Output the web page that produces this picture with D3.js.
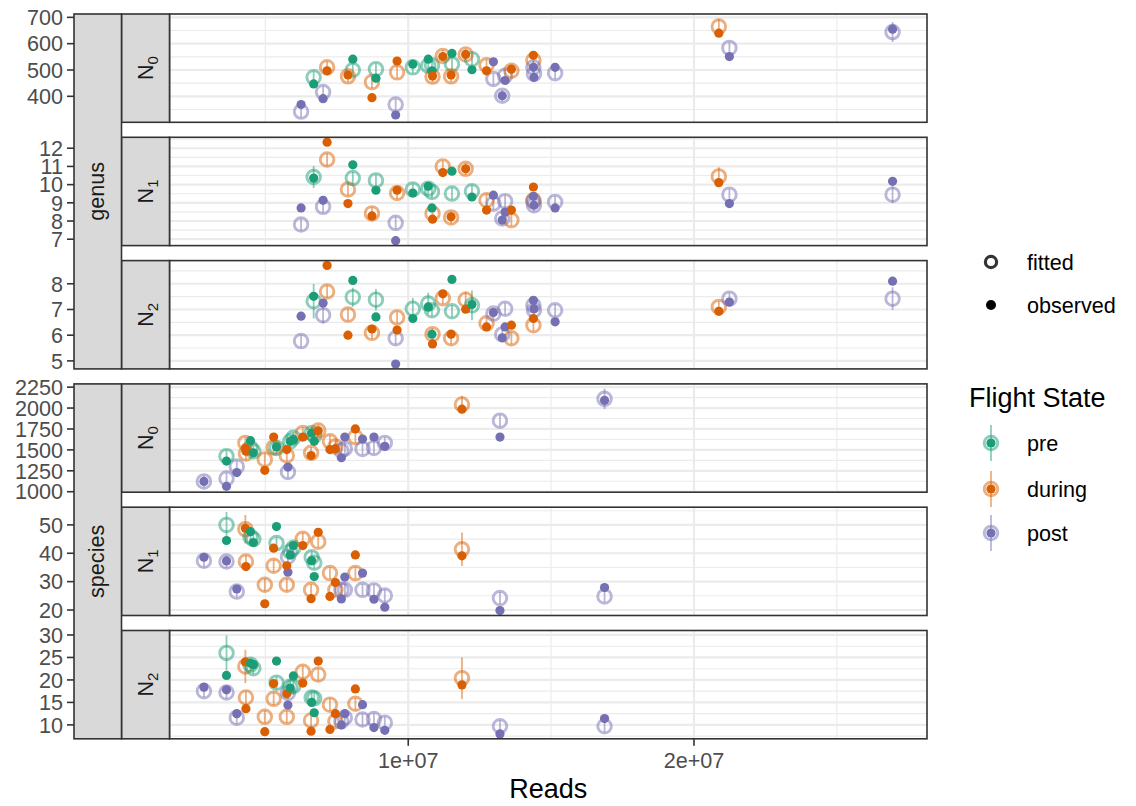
<!DOCTYPE html>
<html><head><meta charset="utf-8">
<script src="https://cdn.jsdelivr.net/npm/d3@7"></script>
<style>
body{margin:0;background:#fff}
svg{display:block}
text{font-family:"Liberation Sans",Arial,Helvetica,sans-serif}
</style>
</head><body>
<svg id="chart" width="1136" height="806"></svg>
<script>
// Flight states and their colours (Dark2)
const stateLevels = ["pre", "during", "post"];
const stateColors = ["#1B9E77", "#D95F02", "#7570B3"];
const taxLevels = ["genus", "species"];
const orderLevels = ["0", "1", "2"];

// ---- genus-level samples ----
const genusReads = [6.25e6, 6.69e6, 7.02e6, 7.16e6, 7.89e6, 8.06e6, 8.73e6, 8.87e6, 9.56e6, 9.61e6, 10.16e6, 10.70e6, 10.83e6, 10.85e6, 11.21e6, 11.53e6, 11.50e6, 12.01e6, 12.23e6, 12.74e6, 12.98e6, 13.39e6, 13.29e6, 13.61e6, 14.38e6, 14.38e6, 14.40e6, 15.14e6, 20.87e6, 21.24e6, 26.95e6];
const genusState = ["post","pre","post","during","during","pre","during","pre","post","during","pre","pre","pre","during","during","pre","during","during","pre","during","post","post","post","during","during","post","post","post","during","post","post"];
const genusN0Fit = [342,472,416,510,476,500,454,503,369,491,510,516,518,475,553,522,476,559,541,518,466,478,402,497,537,510,485,488,665,584,644];
const genusN0Obs = [369,447,391,497,481,541,395,469,329,534,522,541,497,477,551,563,481,559,501,497,531,460,402,503,556,510,472,510,640,551,655];
const genusN0Half = [22,22,22,22,22,22,22,22,22,22,22,22,22,22,22,22,22,22,22,22,22,22,22,22,22,22,22,22,29,22,38];
const genusN1Fit = [7.81,10.42,8.78,11.38,9.73,10.36,8.42,10.23,7.90,9.54,9.73,9.78,9.60,8.42,11.00,9.51,8.20,10.87,9.63,9.14,8.96,9.09,8.14,8.05,9.14,9.09,8.87,9.05,10.45,9.45,9.45];
const genusN1Obs = [8.72,10.36,9.14,12.33,8.96,11.09,8.28,9.69,6.92,9.69,9.54,9.91,8.72,8.10,10.66,10.74,8.23,10.87,9.32,8.60,9.42,8.49,8.05,8.60,9.87,9.36,8.87,8.72,10.11,8.96,10.18];
const genusN1Half = [0.33,0.6,0.33,0.33,0.33,0.33,0.33,0.33,0.33,0.33,0.33,0.33,0.33,0.33,0.33,0.33,0.33,0.33,0.33,0.33,0.33,0.33,0.33,0.33,0.33,0.33,0.33,0.33,0.5,0.33,0.46];
const genusN2Fit = [5.77,7.32,6.78,7.70,6.80,7.48,6.09,7.38,5.88,6.69,7.03,7.23,6.97,6.04,7.44,6.93,5.88,7.38,7.16,6.46,6.84,7.03,6.03,5.88,6.39,7.16,6.97,6.97,7.10,7.42,7.42];
const genusN2Obs = [6.74,7.51,7.25,8.71,6.00,8.13,6.24,6.71,4.88,6.20,6.65,7.10,6.04,5.66,7.61,8.17,6.04,7.01,7.19,6.32,6.88,6.32,5.90,6.39,6.65,7.36,7.03,6.52,6.93,7.29,8.10];
const genusN2Half = [0.23,0.67,0.33,0.23,0.23,0.37,0.23,0.42,0.23,0.23,0.42,0.42,0.23,0.23,0.23,0.23,0.23,0.32,0.58,0.23,0.23,0.23,0.23,0.23,0.23,0.23,0.23,0.23,0.23,0.23,0.44];

// ---- species-level samples ----
const speciesReads = [2.85e6, 3.64e6, 3.64e6, 4.00e6, 4.30e6, 4.32e6, 4.48e6, 4.58e6, 4.98e6, 5.29e6, 5.39e6, 5.79e6, 5.75e6, 5.87e6, 5.98e6, 6.31e6, 6.60e6, 6.62e6, 6.71e6, 6.85e6, 7.26e6, 7.45e6, 7.66e6, 7.78e6, 8.15e6, 8.40e6, 8.80e6, 9.18e6, 11.88e6, 13.21e6, 16.87e6];
const speciesState = ["post","post","pre","post","during","during","pre","pre","during","during","pre","post","during","pre","pre","during","during","pre","pre","during","during","during","post","post","during","post","post","post","during","post","post"];
const speciesN0Fit = [1123,1158,1425,1300,1583,1457,1524,1484,1386,1530,1524,1236,1433,1602,1645,1701,1465,1701,1669,1731,1602,1539,1492,1515,1653,1512,1524,1583,2043,1849,2110];
const speciesN0Obs = [1123,1064,1366,1229,1524,1484,1610,1465,1256,1653,1536,1295,1504,1602,1622,1653,1433,1701,1602,1728,1504,1515,1406,1653,1751,1630,1653,1543,1987,1653,2093];
const speciesN0Half = [70,70,70,70,70,70,70,70,70,70,70,70,70,70,70,70,70,70,70,70,70,70,70,70,70,70,70,70,105,70,120];
const speciesN1Fit = [37.4,37.1,50.0,26.5,48.5,37.1,45.8,45.0,28.9,35.6,43.6,38.8,28.9,40.6,41.9,45.1,27.1,38.6,36.7,44.1,33.0,27.1,27.1,27.1,33.0,27.1,26.9,25.1,41.4,24.2,24.8];
const speciesN1Obs = [38.6,37.3,44.5,27.4,48.8,35.3,47.6,43.8,22.2,41.8,49.4,33.3,35.6,39.4,42.7,42.7,24.0,37.4,31.8,47.4,24.8,29.7,23.9,31.6,39.4,33.0,23.8,21.0,39.1,19.8,27.9];
const speciesN1Half = [2.1,2.1,4.5,2.1,5.0,2.1,2.1,2.1,2.1,2.1,2.1,2.1,2.1,2.1,2.1,2.1,2.1,2.1,2.1,2.1,2.1,2.1,2.1,2.1,2.1,2.1,2.1,2.1,5.9,2.1,2.1];
const speciesN2Fit = [17.5,17.2,26.0,11.6,23.0,16.1,23.4,22.6,11.8,15.8,19.4,17.1,11.8,18.5,18.6,21.8,11.0,16.1,15.9,21.2,14.5,10.8,10.8,11.6,14.7,11.2,11.3,10.5,20.4,9.7,9.7];
const speciesN2Obs = [18.4,17.8,21.0,12.5,24.0,13.6,23.7,23.4,8.5,19.2,24.2,14.4,16.9,18.2,20.9,19.3,8.6,15.0,12.7,24.2,9.0,12.5,10.0,12.5,18.0,14.5,9.4,8.8,18.9,8.0,11.4];
const speciesN2Half = [1.35,1.35,3.9,1.35,3.7,1.35,1.35,1.35,1.35,1.35,1.35,1.35,1.35,1.35,1.35,1.35,1.35,1.35,1.35,1.35,1.35,1.35,1.35,1.35,1.35,1.35,1.35,1.35,4.65,1.35,1.35];

// ---- axis breaks ----
const genusN0Ticks = [400, 500, 600, 700];
const genusN1Ticks = [7, 8, 9, 10, 11, 12];
const genusN2Ticks = [5, 6, 7, 8];
const speciesN0Ticks = [1000, 1250, 1500, 1750, 2000, 2250];
const speciesN1Ticks = [20, 30, 40, 50];
const speciesN2Ticks = [10, 15, 20, 25, 30];
const readsTicks = [1e7, 2e7];

// ---- facet table ----
const facets = [
  {tax: "genus", order: "0", reads: genusReads, state: genusState, fit: genusN0Fit, obs: genusN0Obs, half: genusN0Half, ticks: genusN0Ticks},
  {tax: "genus", order: "1", reads: genusReads, state: genusState, fit: genusN1Fit, obs: genusN1Obs, half: genusN1Half, ticks: genusN1Ticks},
  {tax: "genus", order: "2", reads: genusReads, state: genusState, fit: genusN2Fit, obs: genusN2Obs, half: genusN2Half, ticks: genusN2Ticks},
  {tax: "species", order: "0", reads: speciesReads, state: speciesState, fit: speciesN0Fit, obs: speciesN0Obs, half: speciesN0Half, ticks: speciesN0Ticks},
  {tax: "species", order: "1", reads: speciesReads, state: speciesState, fit: speciesN1Fit, obs: speciesN1Obs, half: speciesN1Half, ticks: speciesN1Ticks},
  {tax: "species", order: "2", reads: speciesReads, state: speciesState, fit: speciesN2Fit, obs: speciesN2Obs, half: speciesN2Half, ticks: speciesN2Ticks}
];

// ---- layout ----
const svg = d3.select("#chart");
const panelLeft = 169.5, panelRight = 927;
const outerStripLeft = 74, innerStripLeft = 121.5;
const panelTop0 = 14, panelH = 108.3, panelGap = 15;
const smallFont = 21.6, bigFont = 27;
const fitR = 6.8, fitStroke = 2.9, obsR = 4.6;
const colorOf = d3.scaleOrdinal(stateLevels, stateColors);

function expand(lo, hi) { const p = (hi - lo) * 0.05; return [lo - p, hi + p]; }
function minorBreaks(ticks, domain) {
  const step = ticks[1] - ticks[0];
  const out = [];
  for (let t = ticks[0] - step / 2; t <= domain[1]; t += step) if (t >= domain[0]) out.push(t);
  return out;
}
const sciLabel = d => {
  const e = Math.floor(Math.log10(d));
  return (d / Math.pow(10, e)) + "e+" + String(e).padStart(2, "0");
};

const allReads = genusReads.concat(speciesReads);
const x = d3.scaleLinear().domain(expand(d3.min(allReads), d3.max(allReads))).range([panelLeft, panelRight]);
const xMinor = minorBreaks(readsTicks, x.domain());

const defs = svg.append("defs");

facets.forEach((f, i) => {
  const top = panelTop0 + i * (panelH + panelGap);
  const bottom = top + panelH;
  const lows = f.fit.map((v, k) => v - f.half[k]).concat(f.obs);
  const highs = f.fit.map((v, k) => v + f.half[k]).concat(f.obs);
  const y = d3.scaleLinear().domain(expand(d3.min(lows), d3.max(highs))).range([bottom, top]);
  const g = svg.append("g");

  // grid
  const yMinor = minorBreaks(f.ticks, y.domain());
  g.selectAll(".ymin").data(yMinor).join("line")
    .attr("x1", panelLeft).attr("x2", panelRight).attr("y1", d => y(d)).attr("y2", d => y(d))
    .attr("stroke", "#EBEBEB").attr("stroke-width", 1.1);
  g.selectAll(".xmin").data(xMinor).join("line")
    .attr("x1", d => x(d)).attr("x2", d => x(d)).attr("y1", top).attr("y2", bottom)
    .attr("stroke", "#EBEBEB").attr("stroke-width", 1.1);
  g.selectAll(".ymaj").data(f.ticks).join("line")
    .attr("x1", panelLeft).attr("x2", panelRight).attr("y1", d => y(d)).attr("y2", d => y(d))
    .attr("stroke", "#EBEBEB").attr("stroke-width", 2.2);
  g.selectAll(".xmaj").data(readsTicks).join("line")
    .attr("x1", d => x(d)).attr("x2", d => x(d)).attr("y1", top).attr("y2", bottom)
    .attr("stroke", "#EBEBEB").attr("stroke-width", 2.2);

  // clip for marks
  const clipId = "clip" + i;
  defs.append("clipPath").attr("id", clipId).append("rect")
    .attr("x", panelLeft).attr("y", top).attr("width", panelRight - panelLeft).attr("height", panelH);
  const marks = g.append("g").attr("clip-path", `url(#${clipId})`);
  const idx = d3.range(f.reads.length);

  // fitted intervals and fitted values
  marks.selectAll(".err").data(idx).join("line")
    .attr("x1", k => x(f.reads[k])).attr("x2", k => x(f.reads[k]))
    .attr("y1", k => y(f.fit[k] - f.half[k])).attr("y2", k => y(f.fit[k] + f.half[k]))
    .attr("stroke", k => colorOf(f.state[k])).attr("stroke-width", 1.8).attr("stroke-opacity", 0.5);
  marks.selectAll(".fit").data(idx).join("circle")
    .attr("cx", k => x(f.reads[k])).attr("cy", k => y(f.fit[k])).attr("r", fitR)
    .attr("fill", "none").attr("stroke", k => colorOf(f.state[k])).attr("stroke-width", fitStroke).attr("stroke-opacity", 0.5);
  // observed values
  marks.selectAll(".obs").data(idx).join("circle")
    .attr("cx", k => x(f.reads[k])).attr("cy", k => y(f.obs[k])).attr("r", obsR)
    .attr("fill", k => colorOf(f.state[k]));

  // panel border
  g.append("rect").attr("x", panelLeft).attr("y", top).attr("width", panelRight - panelLeft).attr("height", panelH)
    .attr("fill", "none").attr("stroke", "#333333").attr("stroke-width", 1.6);

  // inner strip (diversity order)
  g.append("rect").attr("x", innerStripLeft).attr("y", top).attr("width", panelLeft - innerStripLeft).attr("height", panelH)
    .attr("fill", "#D9D9D9").attr("stroke", "#333333").attr("stroke-width", 1.6);
  const cx = (innerStripLeft + panelLeft) / 2 + 7, cy = (top + bottom) / 2;
  const st = g.append("text").attr("transform", `translate(${cx},${cy}) rotate(-90)`)
    .attr("text-anchor", "middle").attr("fill", "#1A1A1A").attr("font-size", smallFont);
  st.append("tspan").text("N");
  st.append("tspan").attr("font-size", 15).attr("dy", 5).text(f.order);

  // y axis
  g.selectAll(".ytick").data(f.ticks).join("line")
    .attr("x1", outerStripLeft - 7).attr("x2", outerStripLeft).attr("y1", d => y(d)).attr("y2", d => y(d))
    .attr("stroke", "#333333").attr("stroke-width", 1.6);
  g.selectAll(".ylab").data(f.ticks).join("text")
    .attr("x", outerStripLeft - 11).attr("y", d => y(d)).attr("dy", "0.36em")
    .attr("text-anchor", "end").attr("fill", "#4D4D4D").attr("font-size", smallFont)
    .text(d => d);

  // x axis on bottom panel
  if (i === facets.length - 1) {
    g.selectAll(".xtick").data(readsTicks).join("line")
      .attr("x1", d => x(d)).attr("x2", d => x(d)).attr("y1", bottom).attr("y2", bottom + 7)
      .attr("stroke", "#333333").attr("stroke-width", 1.6);
    g.selectAll(".xlab").data(readsTicks).join("text")
      .attr("x", d => x(d)).attr("y", bottom + 29)
      .attr("text-anchor", "middle").attr("fill", "#4D4D4D").attr("font-size", smallFont)
      .text(sciLabel);
  }
});

// outer strips (taxonomic level)
taxLevels.forEach((t, j) => {
  const top = panelTop0 + j * 3 * (panelH + panelGap);
  const bottom = top + 3 * panelH + 2 * panelGap;
  svg.append("rect").attr("x", outerStripLeft).attr("y", top).attr("width", innerStripLeft - outerStripLeft).attr("height", bottom - top)
    .attr("fill", "#D9D9D9").attr("stroke", "#333333").attr("stroke-width", 1.6);
  svg.append("text").attr("transform", `translate(${(outerStripLeft + innerStripLeft) / 2},${(top + bottom) / 2}) rotate(-90)`)
    .attr("text-anchor", "middle").attr("dy", "0.3em").attr("fill", "#1A1A1A").attr("font-size", smallFont).text(t);
});

// x axis title
svg.append("text").attr("x", (panelLeft + panelRight) / 2).attr("y", 798)
  .attr("text-anchor", "middle").attr("font-size", bigFont).attr("fill", "#000").text("Reads");

// legend: value type
const lg = svg.append("g");
const keyX = 991, textX = 1027;
lg.append("circle").attr("cx", keyX).attr("cy", 262).attr("r", 5.6)
  .attr("fill", "none").attr("stroke", "#000").attr("stroke-width", 3.2).attr("stroke-opacity", 0.8);
lg.append("text").attr("x", textX).attr("y", 262).attr("dy", "0.36em").attr("font-size", smallFont).text("fitted");
lg.append("circle").attr("cx", keyX).attr("cy", 305).attr("r", 5).attr("fill", "#000");
lg.append("text").attr("x", textX).attr("y", 305).attr("dy", "0.36em").attr("font-size", smallFont).text("observed");

// legend: flight state
lg.append("text").attr("x", 969).attr("y", 397).attr("dy", "0.36em").attr("font-size", bigFont).text("Flight State");
const keyYs = [443, 489, 533];
stateLevels.forEach((s, j) => {
  const ky = keyYs[j];
  lg.append("line").attr("x1", keyX).attr("x2", keyX).attr("y1", ky - 18).attr("y2", ky + 18)
    .attr("stroke", colorOf(s)).attr("stroke-width", 1.8).attr("stroke-opacity", 0.5);
  lg.append("circle").attr("cx", keyX).attr("cy", ky).attr("r", fitR)
    .attr("fill", "none").attr("stroke", colorOf(s)).attr("stroke-width", fitStroke).attr("stroke-opacity", 0.5);
  lg.append("circle").attr("cx", keyX).attr("cy", ky).attr("r", obsR).attr("fill", colorOf(s));
  lg.append("text").attr("x", textX).attr("y", ky).attr("dy", "0.36em").attr("font-size", smallFont).text(s);
});
</script>
</body></html>
